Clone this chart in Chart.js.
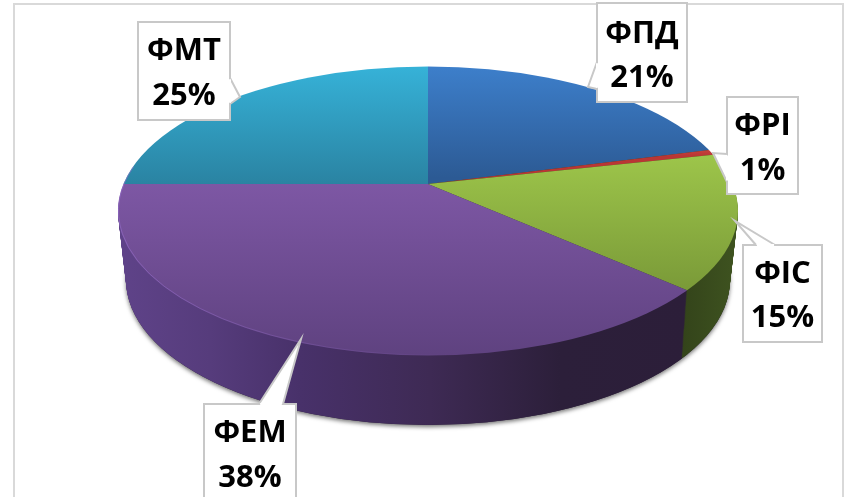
<!DOCTYPE html>
<html>
<head>
<meta charset="utf-8">
<title>Pie</title>
<script src="https://cdn.jsdelivr.net/npm/chart.js@4"></script>
<style>
    html, body { margin: 0; padding: 0; background: #fff; overflow: hidden; }
    canvas { display: block; }
</style>
</head>
<body>
<canvas id="pieChart" width="845" height="497"></canvas>
<script>
// Values (the labels show them rounded)
const categories = ['ФПД', 'ФРІ', 'ФІС', 'ФЕМ', 'ФМТ'];
const shares = [20.9, 0.6, 15.1, 38.4, 25];

// Top face colours per slice: [upper, lower, y of upper, y of lower]
const topColors = [
    ['#3d7fcb', '#2c5a94', 66, 178],
    ['#c8403c', '#b93634', 150, 156],
    ['#9dc54a', '#7a9a38', 155, 290],
    ['#7d57a4', '#5f4280', 184, 355],
    ['#36b2d8', '#2a83a2', 66, 184]
];
// Side wall colours, left to right
const wallPurple = [[118, '#5f4389'], [210, '#563c7c'], [300, '#48316a'], [430, '#3e2a54'], [560, '#2c1f3a'], [690, '#2c1e39']];
const wallGreen = [[680, '#33431a'], [740, '#3f5420']];
const sideColors = [wallGreen, wallGreen, wallGreen, wallPurple, wallPurple];

// Where the labels sit: box, line centres, pointer polygon
const callouts = [
    { x: 597, y: 3, w: 90, h: 99, lines: [34, 78], tip: [[597, 62], [588, 87], [597, 89]] },
    { x: 727, y: 97, w: 71, h: 97, lines: [126, 171], tip: [[727, 154], [713, 153], [727, 182]] },
    { x: 743, y: 245, w: 79, h: 97, lines: [274, 318], tip: [[756, 245], [735, 221], [775, 245]] },
    { x: 204, y: 404, w: 92, h: 110, lines: [433, 478], tip: [[259, 404], [301, 339], [283, 404]] },
    { x: 138, y: 22, w: 92, h: 98, lines: [51, 96], tip: [[230, 78], [240, 97], [230, 104]] }
];

const apex = { x: 428, y: 184 };
const depth = 70;

function rimAt(s) {
    const t = s / depth;
    return { x: 428, y: 211 + 69 * t, rx: 310 - 8 * t, ry: 144.5 + 0.5 * t };
}

function drawArcWith(ctx, arc, fill) {
    const saved = arc.options;
    arc.options = Object.assign({}, saved, { backgroundColor: fill });
    arc.draw(ctx);
    arc.options = saved;
}

const pie3d = {
    id: 'pie3d',
    beforeDraw(chart) {
        const ctx = chart.ctx;
        ctx.save();
        ctx.strokeStyle = '#d9d9d9';
        ctx.lineWidth = 2;
        ctx.beginPath();
        ctx.moveTo(14, 497);
        ctx.lineTo(14, 4);
        ctx.lineTo(843, 4);
        ctx.lineTo(843, 497);
        ctx.stroke();
        ctx.restore();
    },
    beforeDatasetsDraw(chart) {
        const ctx = chart.ctx;
        const arcs = chart.getDatasetMeta(0).data;
        const cx = arcs[0].x, cy = arcs[0].y, R = arcs[0].outerRadius;
        // slices are drawn oversized, the rim clip gives the outline
        const sx = 304 * 1.25 / R, sy = 139.6 * 1.25 / R;

        const localX = X => cx + (X - apex.x) / sx;
        const localY = Y => cy + (Y - apex.y) / sy;

        const sideFills = sideColors.map(stops => {
            const g = ctx.createLinearGradient(localX(stops[0][0]), 0, localX(stops[stops.length - 1][0]), 0);
            const span = stops[stops.length - 1][0] - stops[0][0];
            stops.forEach(p => g.addColorStop((p[0] - stops[0][0]) / span, p[1]));
            return g;
        });
        const topFills = topColors.map(c => {
            const g = ctx.createLinearGradient(0, localY(c[2]), 0, localY(c[3]));
            g.addColorStop(0, c[0]);
            g.addColorStop(1, c[1]);
            return g;
        });

        const layer = (s, fills) => {
            const rim = rimAt(s);
            ctx.save();
            ctx.beginPath();
            ctx.ellipse(rim.x, rim.y, rim.rx, rim.ry, 0, 0, Math.PI * 2);
            ctx.clip();
            ctx.translate(apex.x, apex.y + s);
            ctx.scale(sx, sy);
            ctx.translate(-cx, -cy);
            arcs.forEach((arc, i) => drawArcWith(ctx, arc, fills[i]));
            ctx.restore();
        };

        // soft shadow under the cake
        const low = rimAt(depth);
        ctx.save();
        ctx.shadowColor = 'rgba(0,0,0,0.55)';
        ctx.shadowBlur = 4;
        ctx.shadowOffsetY = 2;
        ctx.fillStyle = '#2c1e39';
        ctx.beginPath();
        ctx.ellipse(low.x, low.y, low.rx, low.ry, 0, 0, Math.PI * 2);
        ctx.fill();
        ctx.restore();

        for (let s = depth; s > 0; s--) {
            layer(s, sideFills);
        }
        layer(0, topFills);

        // lighter rim on the purple slice
        const rim = rimAt(0);
        const rimGrad = ctx.createLinearGradient(118, 0, 450, 0);
        rimGrad.addColorStop(0, 'rgba(150,110,205,0.6)');
        rimGrad.addColorStop(1, 'rgba(150,110,205,0)');
        ctx.save();
        ctx.strokeStyle = rimGrad;
        ctx.lineWidth = 1;
        ctx.beginPath();
        ctx.ellipse(rim.x, rim.y, rim.rx - 0.5, rim.ry - 0.5, 0, Math.PI * 0.45, Math.PI * 1.1);
        ctx.stroke();
        ctx.restore();
        return false;
    },
    afterDraw(chart) {
        const ctx = chart.ctx;
        ctx.save();
        callouts.forEach((c, i) => {
            const t = c.tip;
            ctx.fillStyle = '#ffffff';
            ctx.strokeStyle = '#c8c8c8';
            ctx.lineWidth = 2;
            ctx.lineJoin = 'miter';
            ctx.beginPath();
            ctx.rect(c.x, c.y, c.w, c.h);
            ctx.fill();
            ctx.stroke();
            ctx.beginPath();
            ctx.moveTo(t[0][0], t[0][1]);
            ctx.lineTo(t[1][0], t[1][1]);
            ctx.lineTo(t[2][0], t[2][1]);
            ctx.closePath();
            ctx.fill();
            ctx.beginPath();
            ctx.moveTo(t[0][0], t[0][1]);
            ctx.lineTo(t[1][0], t[1][1]);
            ctx.lineTo(t[2][0], t[2][1]);
            ctx.stroke();
            // cover the box border under the pointer base
            ctx.strokeStyle = '#ffffff';
            ctx.beginPath();
            ctx.moveTo(t[0][0] + (t[2][0] - t[0][0]) * 0.05, t[0][1] + (t[2][1] - t[0][1]) * 0.05);
            ctx.lineTo(t[0][0] + (t[2][0] - t[0][0]) * 0.95, t[0][1] + (t[2][1] - t[0][1]) * 0.95);
            ctx.stroke();

            ctx.fillStyle = '#000000';
            ctx.font = 'bold 31px "Open Sans"';
            ctx.textAlign = 'center';
            ctx.textBaseline = 'middle';
            ctx.fillText(categories[i], c.x + c.w / 2, c.lines[0]);
            ctx.fillText(Math.round(shares[i]) + '%', c.x + c.w / 2, c.lines[1]);
        });
        ctx.restore();
    }
};

const ctx = document.getElementById('pieChart').getContext('2d');
new Chart(ctx, {
    type: 'pie',
    data: {
        labels: categories,
        datasets: [{
            data: shares,
            backgroundColor: topColors.map(c => c[0]),
            borderWidth: 0
        }]
    },
    options: {
        responsive: false,
        animation: false,
        layout: { padding: 0 },
        plugins: {
            legend: { display: false },
            tooltip: { enabled: false }
        }
    },
    plugins: [pie3d]
});
</script>
</body>
</html>
